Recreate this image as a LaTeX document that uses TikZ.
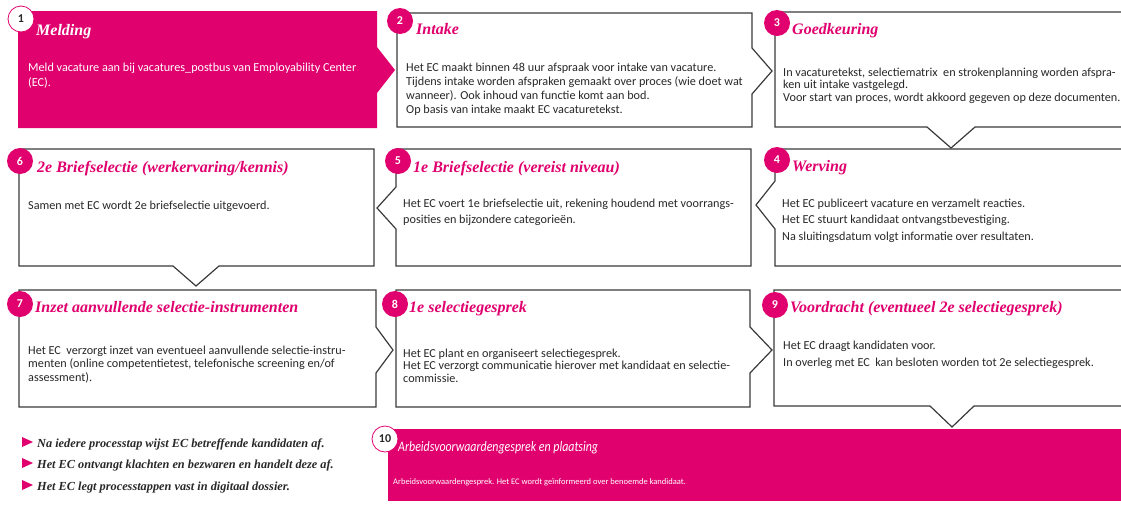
\documentclass[tikz,border=0pt]{standalone}
\usepackage{fontspec}
\setmainfont{Carlito}
\newfontfamily\serifkop{Liberation Serif}
\newfontfamily\smalkop[FakeStretch=0.82]{Carlito}
\definecolor{ecroze}{RGB}{224,0,110}
\definecolor{eclijn}{RGB}{58,58,58}
\definecolor{ectekst}{RGB}{40,40,40}

\tikzset{
  stapkader/.style={draw=eclijn, line width=1.2pt, fill=white},
  stapvlak/.style={fill=ecroze},
  nummer/.style={circle, fill=ecroze, text=white, inner sep=0pt, minimum size=26pt, font=\bfseries\fontsize{12}{12}\selectfont},
  nummerwit/.style={nummer, fill=white, draw=ecroze, line width=0.8pt, text=ectekst},
  kop/.style={anchor=base west, inner sep=0pt, text=ecroze, font=\serifkop\bfseries\itshape\fontsize{16}{18}\selectfont},
  % anker op de basislijn van de laatste regel
  tekst/.style={anchor=base west, inner sep=0pt, align=left, text=ectekst, font=\fontsize{12.2}{#1}\selectfont},
  tekst/.default=14.5,
  punt/.style={anchor=base west, inner sep=0pt, text=ectekst, font=\serifkop\bfseries\itshape\fontsize{12.3}{14}\selectfont},
}

\begin{document}
\begin{tikzpicture}[x=1pt, y=-1pt]
    \clip (0,0) rectangle (1121,504);
    % de kaders
    \fill[stapvlak]  (18,11) -- (377,11) -- (377,47) -- (395,70) -- (377,93) -- (377,128) -- (18,128) -- cycle;
    \draw[stapkader] (397,13) -- (752,13) -- (752,48) -- (772,71) -- (752,94) -- (752,127) -- (397,127) -- cycle;
    \draw[stapkader] (775,12) -- (1130,12) -- (1130,127) -- (975,127) -- (951,148) -- (927,127) -- (775,127) -- cycle;
    \draw[stapkader] (775,149) -- (1130,149) -- (1130,266) -- (775,266) -- (775,229) -- (756,205) -- (775,181) -- cycle;
    \draw[stapkader] (396,149) -- (751,149) -- (751,266) -- (396,266) -- (396,229) -- (377,208) -- (396,187) -- cycle;
    \draw[stapkader] (19,149) -- (374,149) -- (374,266) -- (219,266) -- (196,286) -- (173,266) -- (19,266) -- cycle;
    \draw[stapkader] (19,290) -- (376,290) -- (376,327) -- (393,350) -- (376,373) -- (376,407) -- (19,407) -- cycle;
    \draw[stapkader] (396,290) -- (750,290) -- (750,327) -- (772,350) -- (750,373) -- (750,407) -- (396,407) -- cycle;
    \draw[stapkader] (774,290) -- (1130,290) -- (1130,406) -- (974,406) -- (952,427) -- (930,406) -- (774,406) -- cycle;
    \fill[stapvlak]  (388,429) rectangle (1130,501);
    % koppen en teksten
    \node[kop, text=white] (kop1) at (36,35) {Melding};
    \node[tekst, text=white] (tekst1) at (28,86) {Meld vacature aan bij vacatures\_postbus van Employability Center\\(EC).};
    \node[kop] (kop2) at (416,34) {Intake};
    \node[tekst=14] (tekst2) at (406,113) {Het EC maakt binnen 48 uur afspraak voor intake van vacature.\\Tijdens intake worden afspraken gemaakt over proces (wie doet wat\\wanneer). Ook inhoud van functie komt aan bod.\\Op basis van intake maakt EC vacaturetekst.};
    \node[kop] (kop3) at (792,34) {Goedkeuring};
    \node[tekst=12.5] (tekst3) at (783,101) {In vacaturetekst, selectiematrix \ en strokenplanning worden afspra-\\ken uit intake vastgelegd.\\Voor start van proces, wordt akkoord gegeven op deze documenten.};
    \node[kop] (kop4) at (792,171) {Werving};
    \node[tekst=16.5] (tekst4) at (782,240) {Het EC publiceert vacature en verzamelt reacties.\\Het EC stuurt kandidaat ontvangstbevestiging.\\Na sluitingsdatum volgt informatie over resultaten.};
    \node[kop] (kop5) at (413,172) {1e Briefselectie (vereist niveau)};
    \node[tekst=16] (tekst5) at (403,223) {Het EC voert 1e briefselectie uit, rekening houdend met voorrangs-\\posities en bijzondere categorieën.};
    \node[kop] (kop6) at (37,172) {2e Briefselectie (werkervaring/kennis)};
    \node[tekst] (tekst6) at (28,209) {Samen met EC wordt 2e briefselectie uitgevoerd.};
    \node[kop] (kop7) at (35,312) {Inzet aanvullende selectie-instrumenten};
    \node[tekst=13.5] (tekst7) at (28,381) {Het EC \ verzorgt inzet van eventueel aanvullende selectie-instru-\\menten (online competentietest, telefonische screening en/of\\assessment).};
    \node[kop] (kop8) at (409,312) {1e selectiegesprek};
    \node[tekst=12.5] (tekst8) at (403,382) {Het EC plant en organiseert selectiegesprek.\\Het EC verzorgt communicatie hierover met kandidaat en selectie-\\commissie.};
    \node[kop] (kop9) at (790,312) {Voordracht (eventueel 2e selectiegesprek)};
    \node[tekst=17] (tekst9) at (783,366) {Het EC draagt kandidaten voor.\\In overleg met EC \ kan besloten worden tot 2e selectiegesprek.};
    \node[kop, text=white, font=\smalkop\itshape\fontsize{14.5}{16}\selectfont] (kop10) at (398,451) {Arbeidsvoorwaardengesprek en plaatsing};
    \node[tekst, text=white, font=\fontsize{8.5}{10}\selectfont] (tekst10) at (393,484) {Arbeidsvoorwaardengesprek. Het EC wordt geïnformeerd over benoemde kandidaat.};
    % nummers
    \node[nummerwit] (nr1) at (21,19) {1};
    \node[nummer] (nr2) at (400,21) {2};
    \node[nummer] (nr3) at (777,23) {3};
    \node[nummer] (nr4) at (777,160) {4};
    \node[nummer] (nr5) at (398,161) {5};
    \node[nummer] (nr6) at (20,161) {6};
    \node[nummer] (nr7) at (20,304) {7};
    \node[nummer] (nr8) at (395,304) {8};
    \node[nummer] (nr9) at (775,305) {9};
    \node[nummerwit] (nr10) at (385,439) {10};
    % opsomming
    \fill[ecroze] (22,437) -- (33,442) -- (22,447) -- cycle;
    \fill[ecroze] (22,458) -- (33,463) -- (22,468) -- cycle;
    \fill[ecroze] (22,480) -- (33,485) -- (22,490) -- cycle;
    \node[punt] (punt1) at (37,447) {Na iedere processtap wijst EC betreffende kandidaten af.};
    \node[punt] (punt2) at (37,468) {Het EC ontvangt klachten en bezwaren en handelt deze af.};
    \node[punt] (punt3) at (37,490) {Het EC legt processtappen vast in digitaal dossier.};
\end{tikzpicture}
\end{document}
